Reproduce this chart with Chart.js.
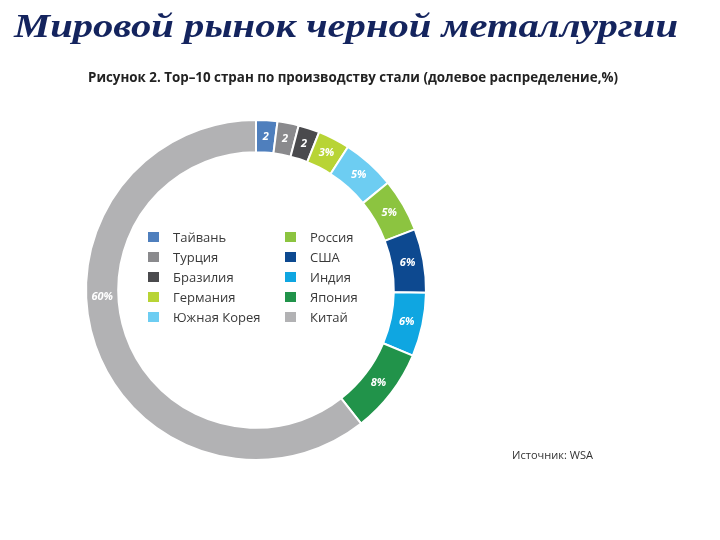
<!DOCTYPE html>
<html><head><meta charset="utf-8">
<script src="https://cdn.jsdelivr.net/npm/chart.js@4"></script>
<style>html,body{margin:0;padding:0;background:#fff}#wrap{width:720px;height:540px}</style>
</head><body><div id="wrap"><canvas id="c" width="720" height="540"></canvas></div>
<script>
const countries = ["Тайвань","Турция","Бразилия","Германия","Южная Корея","Россия","США","Индия","Япония","Китай"];
const shares = [2,2,2,3,5,5,6,6,8,60];
const segmentLabels = ["2","2","2","3%","5%","5%","6%","6%","8%","60%"];
const colors = ["#4f7fbd","#8a8a8d","#4a4a4d","#b8d435","#6dcdf2","#8cc440","#0d4990","#0fa6e1","#21934a","#b2b2b4"];
const legendColumns = [[0,1,2,3,4],[5,6,7,8,9]];
const titleText = "Мировой рынок черной металлургии";
const subtitleText = "Рисунок 2. Top–10 стран по производству стали (долевое распределение,%)";
const sourceText = "Источник: WSA";

function fitText(ctx, text, x, y, font, width, color, baseline) {
  ctx.save();
  ctx.font = font;
  ctx.fillStyle = color;
  ctx.textBaseline = baseline || 'alphabetic';
  ctx.textAlign = 'left';
  const w = ctx.measureText(text).width;
  const s = width ? width / w : 1;
  ctx.translate(x, y);
  ctx.scale(s, 1);
  ctx.fillText(text, 0, 0);
  ctx.restore();
}

const decorPlugin = {
  id: 'decor',
  afterDatasetsDraw(chart) {
    const ctx = chart.ctx;
    const meta = chart.getDatasetMeta(0);
    // segment labels
    ctx.save();
    ctx.font = "italic bold 11px 'Open Sans'";
    ctx.fillStyle = '#ffffff';
    ctx.textAlign = 'center';
    ctx.textBaseline = 'middle';
    meta.data.forEach((arc, i) => {
      const p = arc.getProps(['x','y','startAngle','endAngle','innerRadius','outerRadius'], true);
      let a = (p.startAngle + p.endAngle) / 2;
      if (i === 9) a = Math.PI * 0.985;
      const r = (p.innerRadius + p.outerRadius) / 2;
      ctx.fillText(segmentLabels[i], p.x + Math.cos(a) * r, p.y + Math.sin(a) * r);
    });
    ctx.restore();
    // legend
    const colX = [[148, 173], [285, 310]];
    const rowY = [237, 257, 277, 297, 317];
    legendColumns.forEach((col, ci) => {
      col.forEach((idx, ri) => {
        ctx.fillStyle = colors[idx];
        ctx.fillRect(colX[ci][0], rowY[ri] - 5, 11, 10);
        fitText(ctx, countries[idx], colX[ci][1], rowY[ri] + 1, "13px 'Open Sans'", 0, '#3a3a3a', 'middle');
      });
    });
    // titles
    fitText(ctx, titleText, 14, 37, "bold italic 34px 'Liberation Serif'", 664, '#14245e');
    fitText(ctx, subtitleText, 88, 82, "bold 15px 'Open Sans'", 530, '#222222');
    fitText(ctx, sourceText, 512, 459, "11px 'Open Sans'", 81, '#333333');
  }
};

new Chart(document.getElementById('c'), {
  type: 'doughnut',
  data: {
    labels: countries,
    datasets: [{
      data: shares,
      backgroundColor: colors,
      borderColor: '#ffffff',
      borderWidth: 2
    }]
  },
  options: {
    responsive: false,
    animation: false,
    devicePixelRatio: 1,
    radius: 170,
    cutout: 137,
    layout: { padding: { left: 86, right: 294, top: 120, bottom: 80 } },
    plugins: { legend: { display: false }, tooltip: { enabled: false }, title: { display: false } }
  },
  plugins: [decorPlugin]
});
</script>
</body></html>
